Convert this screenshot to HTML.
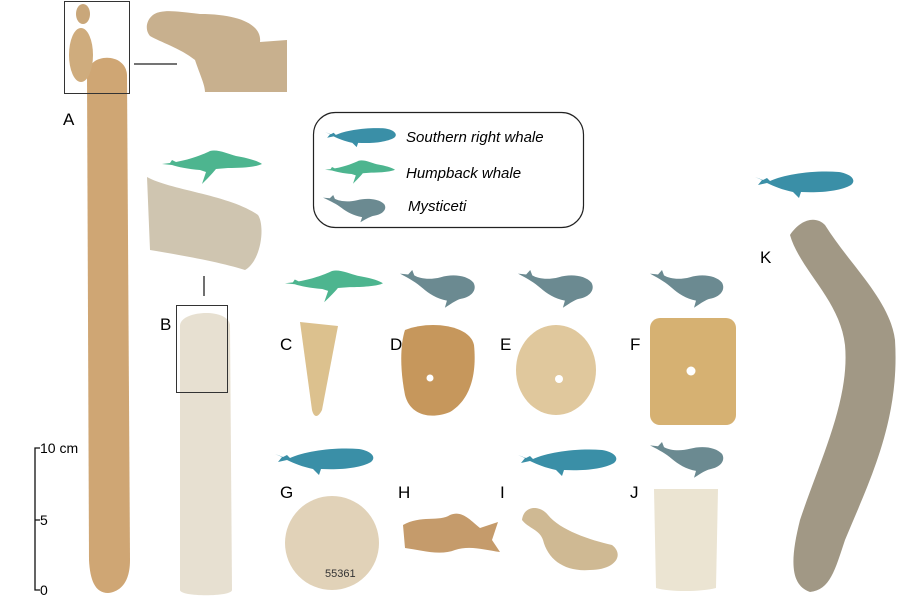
<!DOCTYPE html>
<html><head><meta charset="utf-8"><style>
html,body{margin:0;padding:0;background:#fff;}
svg{display:block;}
text{font-family:"Liberation Sans",Arial,sans-serif;}
</style></head><body>
<svg width="920" height="613" viewBox="0 0 920 613" xmlns="http://www.w3.org/2000/svg">
<defs>
<path id="rw" d="M0,7 L8,10 L12,8 L15,11 C30,4 60,0 84,2 C96,4 102,10 96,15 C86,21 66,23 46,22 L44,28 L38,22 C28,20 18,16 12,13 L3,15 L7,10 Z"/>
<path id="hb" d="M0,14 L8,13 L10,10 L14,12 C30,9 42,4 48,1 C56,-1 66,4 74,6 C86,8 96,11 100,14 C94,17 80,18 66,18 L54,19 C50,24 44,30 40,34 L44,22 L38,20 C26,19 16,17 10,15 Z"/>
<path id="my" d="M0,4 L8,5 L12,0 L14,6 C20,10 30,11 40,8 C52,4 66,6 72,14 C76,22 70,30 60,32 C56,33 52,36 44,42 L46,34 C36,32 28,26 22,20 C16,14 10,10 0,4 Z"/>
</defs>

<!-- A -->
<path d="M87,75 C88,52 126,52 127,75 L130,560 C130,585 118,592 108,593 C95,593 90,580 89,560 Z" fill="#cfa674"/>
<ellipse cx="81" cy="55" rx="12" ry="27" fill="#cfac7d"/>
<ellipse cx="83" cy="14" rx="7" ry="10" fill="#c9a77a"/>
<rect x="64.5" y="1.5" width="65" height="92" fill="none" stroke="#333" stroke-width="1"/>
<text x="63" y="125" font-size="17">A</text>
<line x1="134" y1="64" x2="177" y2="64" stroke="#222" stroke-width="1.3"/>
<path d="M205,92 L287,92 L287,40 L260,42 C262,25 240,14 200,14 C180,12 170,10 160,12 C148,14 143,28 150,36 C160,42 180,48 195,60 C200,75 205,85 205,92 Z" fill="#c8b08e"/>

<!-- B -->
<use href="#hb" transform="translate(162,150)" fill="#4db58f"/>
<path d="M147,177 C170,190 230,195 258,215 C265,225 262,260 245,270 C220,262 180,255 150,250 Z" fill="#cfc5b0"/>
<line x1="204" y1="276" x2="204" y2="296" stroke="#222" stroke-width="1.3"/>
<text x="160" y="330" font-size="17">B</text>
<path d="M180,325 C182,310 228,308 230,325 L232,590 C232,597 180,597 180,590 Z" fill="#e7e0d1"/>
<rect x="176.5" y="305.5" width="51" height="87" fill="none" stroke="#333" stroke-width="1"/>

<!-- legend -->
<rect x="313.5" y="112.5" width="270" height="115" rx="22" fill="#fff" stroke="#222" stroke-width="1.2"/>
<use href="#rw" transform="translate(325,127) scale(0.72)" fill="#3a8fa7"/>
<use href="#hb" transform="translate(325,160) scale(0.7)" fill="#4db58f"/>
<use href="#my" transform="translate(323,195) scale(0.85,0.65)" fill="#6b8a91"/>
<text x="406" y="142" font-size="15" font-style="italic">Southern right whale</text>
<text x="406" y="178" font-size="15" font-style="italic">Humpback whale</text>
<text x="408" y="211" font-size="15" font-style="italic">Mysticeti</text>

<!-- row 1 whales -->
<use href="#hb" transform="translate(285,270) scale(0.98,0.95)" fill="#4db58f"/>
<use href="#my" transform="translate(400,270) scale(1.02,0.9)" fill="#6b8a91"/>
<use href="#my" transform="translate(518,270) scale(1.02,0.9)" fill="#6b8a91"/>
<use href="#my" transform="translate(650,270) scale(1.0,0.9)" fill="#6b8a91"/>

<text x="280" y="350" font-size="17">C</text>
<text x="390" y="350" font-size="17">D</text>
<text x="500" y="350" font-size="17">E</text>
<text x="630" y="350" font-size="17">F</text>
<path d="M300,322 L338,326 L322,410 C318,418 314,418 312,410 Z" fill="#dcc18e"/>
<path d="M405,330 C430,320 470,325 474,345 C477,375 470,400 450,412 C430,420 410,415 405,395 C400,370 400,345 405,330 Z" fill="#c6975c"/>
<circle cx="430" cy="378" r="3.5" fill="#fff"/>
<ellipse cx="556" cy="370" rx="40" ry="45" fill="#e0c89d"/>
<circle cx="559" cy="379" r="4" fill="#fff"/>
<rect x="650" y="318" width="86" height="107" rx="10" fill="#d6b172"/>
<circle cx="691" cy="371" r="4.5" fill="#fff"/>

<!-- row 2 -->
<use href="#rw" transform="translate(275,447) scale(1.0)" fill="#3a8fa7"/>
<use href="#rw" transform="translate(518,448) scale(1.0)" fill="#3a8fa7"/>
<use href="#my" transform="translate(650,442) scale(1.0,0.85)" fill="#6b8a91"/>
<text x="280" y="498" font-size="17">G</text>
<text x="398" y="498" font-size="17">H</text>
<text x="500" y="498" font-size="17">I</text>
<text x="630" y="498" font-size="17">J</text>
<circle cx="332" cy="543" r="47" fill="#e1d2b8"/>
<text x="325" y="577" font-size="11" fill="#333">55361</text>
<path d="M403,525 C420,515 440,522 450,515 C462,510 470,520 480,528 L498,522 L492,540 L500,552 C485,550 470,545 455,550 C440,556 420,550 405,548 Z" fill="#c59b6b"/>
<path d="M522,520 C524,505 540,505 548,515 C560,530 590,540 612,545 C625,555 615,570 590,570 C565,572 548,560 543,540 C540,530 528,528 522,520 Z" fill="#cfb993"/>
<path d="M654,489 L718,489 L716,588 C700,592 670,592 656,588 Z" fill="#ebe4d2"/>

<!-- K -->
<use href="#rw" transform="translate(755,170) scale(1.0)" fill="#3a8fa7"/>
<text x="760" y="263" font-size="17">K</text>
<path d="M790,235 C800,220 815,215 825,225 C850,265 890,300 895,340 C900,420 870,480 845,540 C835,570 830,590 810,592 C790,585 790,560 800,520 C820,460 850,400 845,345 C840,300 800,270 790,235 Z" fill="#a19885"/>

<!-- scale bar -->
<path d="M40,448 L35,448 L35,590 L40,590 M35,520 L40,520" stroke="#111" stroke-width="1.3" fill="none"/>
<text x="40" y="453" font-size="14">10 cm</text>
<text x="40" y="525" font-size="14">5</text>
<text x="40" y="595" font-size="14">0</text>
</svg>
</body></html>
